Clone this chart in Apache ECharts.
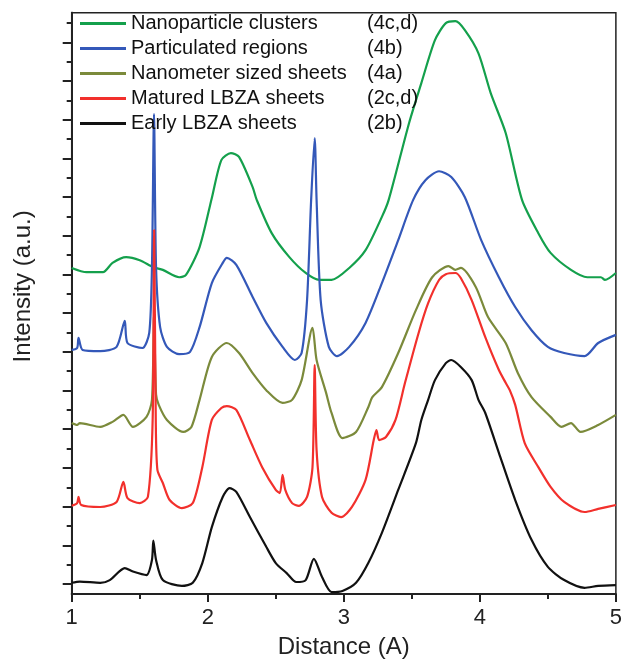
<!DOCTYPE html>
<html>
<head>
<meta charset="utf-8">
<script src="https://cdn.jsdelivr.net/npm/echarts@6/dist/echarts.min.js"></script>
<style>html,body{margin:0;padding:0;background:#fff}#c{width:625px;height:666px}</style>
</head>
<body>
<div id="c"></div>
<script>
// Distance (A) vs intensity (a.u., stacked offsets; unit = one major y tick)
const seriesNames = ['Nanoparticle clusters','Particulated regions','Nanometer sized sheets','Matured LBZA sheets','Early LBZA sheets'];
const seriesTags = ['(4c,d)','(4b)','(4a)','(2c,d)','(2b)'];
const seriesColors = ['#14a04c','#3458b9','#7b8a3b','#f2302c','#111111'];
const xTicks = [1,2,3,4,5];
const yMajorTicks = [0,1,2,3,4,5,6,7,8,9,10,11,12,13,14];
const yMinorTicks = [0.5,1.5,2.5,3.5,4.5,5.5,6.5,7.5,8.5,9.5,10.5,11.5,12.5,13.5,14.5];

const clusters = [[1.00,8.17],[1.11,8.06],[1.23,8.06],[1.30,8.30],[1.40,8.45],[1.50,8.37],[1.60,8.19],[1.67,8.12],[1.79,7.93],[1.84,7.99],[1.94,8.71],[2.03,9.98],[2.10,10.96],[2.17,11.14],[2.23,11.04],[2.33,10.26],[2.36,9.93],[2.47,9.07],[2.60,8.45],[2.72,8.04],[2.82,7.86],[2.91,7.86],[3.04,8.17],[3.16,8.63],[3.28,9.49],[3.33,9.93],[3.48,11.92],[3.57,12.95],[3.67,14.06],[3.75,14.50],[3.82,14.55],[3.89,14.32],[3.99,13.72],[4.08,12.69],[4.19,11.66],[4.31,9.93],[4.43,9.07],[4.52,8.56],[4.67,8.12],[4.79,7.93],[4.89,7.93],[4.92,7.86],[5.00,8.04]];
const particulated = [[1.00,6.05],[1.04,6.10],[1.05,6.36],[1.08,6.05],[1.21,6.02],[1.33,6.13],[1.39,6.80],[1.41,6.23],[1.52,6.10],[1.57,6.49],[1.59,8.19],[1.605,12.15],[1.62,8.19],[1.65,6.64],[1.70,6.13],[1.79,5.94],[1.87,6.00],[1.94,6.64],[2.03,7.78],[2.11,8.30],[2.14,8.43],[2.21,8.25],[2.33,7.42],[2.43,6.75],[2.55,6.13],[2.64,5.79],[2.69,5.97],[2.73,7.34],[2.76,9.93],[2.786,11.53],[2.80,9.93],[2.83,7.34],[2.89,6.13],[2.95,5.89],[3.04,6.13],[3.16,6.75],[3.28,7.78],[3.40,8.89],[3.51,9.93],[3.60,10.44],[3.70,10.67],[3.79,10.52],[3.89,10.00],[4.01,8.89],[4.14,7.93],[4.26,7.16],[4.38,6.56],[4.50,6.13],[4.62,5.97],[4.77,5.89],[4.87,6.23],[5.00,6.44]];
const nanoSheets = [[1.00,4.16],[1.04,4.11],[1.06,4.16],[1.21,4.06],[1.30,4.19],[1.38,4.37],[1.45,4.06],[1.55,4.32],[1.59,4.76],[1.605,6.95],[1.62,4.90],[1.64,4.63],[1.70,4.24],[1.82,3.93],[1.88,4.06],[1.94,4.76],[2.03,5.87],[2.14,6.23],[2.23,5.97],[2.33,5.45],[2.43,5.01],[2.55,4.68],[2.62,4.76],[2.69,5.27],[2.77,6.62],[2.80,5.79],[2.87,4.94],[2.91,4.42],[2.99,3.77],[3.09,3.93],[3.18,4.57],[3.21,4.83],[3.28,5.09],[3.40,5.97],[3.53,7.08],[3.65,7.93],[3.77,8.22],[3.82,8.12],[3.86,8.17],[3.97,7.68],[4.06,6.90],[4.19,6.23],[4.28,5.45],[4.38,4.83],[4.52,4.32],[4.60,4.06],[4.67,4.16],[4.74,3.93],[4.87,4.11],[5.00,4.37]];
const maturedSheets = [[1.00,2.02],[1.04,2.09],[1.05,2.25],[1.07,2.04],[1.21,1.99],[1.33,2.12],[1.38,2.64],[1.41,2.22],[1.50,2.09],[1.56,2.25],[1.595,4.24],[1.606,9.15],[1.618,4.24],[1.63,2.95],[1.67,2.61],[1.72,2.17],[1.81,1.96],[1.89,2.09],[1.96,3.02],[2.03,4.24],[2.10,4.55],[2.14,4.60],[2.21,4.50],[2.31,3.72],[2.40,3.02],[2.50,2.43],[2.53,2.35],[2.55,2.82],[2.57,2.43],[2.62,2.09],[2.67,2.02],[2.73,2.25],[2.77,3.02],[2.786,5.66],[2.80,3.46],[2.84,2.25],[2.91,1.84],[2.98,1.73],[3.06,1.99],[3.16,2.69],[3.22,3.72],[3.24,3.98],[3.26,3.72],[3.31,3.80],[3.38,4.24],[3.45,5.20],[3.55,6.49],[3.62,7.26],[3.70,7.86],[3.75,8.01],[3.82,8.04],[3.86,7.91],[3.94,7.34],[4.04,6.38],[4.14,5.53],[4.19,5.20],[4.22,5.01],[4.26,4.63],[4.33,3.64],[4.43,3.02],[4.52,2.51],[4.62,2.12],[4.77,1.86],[4.87,1.94],[5.00,2.04]];
const earlySheets = [[1.00,0.03],[1.06,0.06],[1.21,0.03],[1.28,0.10],[1.39,0.41],[1.45,0.32],[1.55,0.23],[1.59,0.62],[1.60,1.12],[1.62,0.62],[1.67,0.10],[1.81,-0.05],[1.89,0.03],[1.96,0.54],[2.03,1.47],[2.11,2.25],[2.16,2.48],[2.21,2.38],[2.31,1.73],[2.43,0.96],[2.50,0.54],[2.58,0.28],[2.65,0.05],[2.72,0.10],[2.78,0.65],[2.84,0.18],[2.91,-0.21],[2.99,-0.18],[3.09,0.03],[3.18,0.54],[3.28,1.32],[3.40,2.43],[3.53,3.64],[3.57,4.24],[3.62,4.76],[3.67,5.27],[3.75,5.71],[3.79,5.79],[3.86,5.61],[3.94,5.27],[3.99,4.76],[4.04,4.42],[4.14,3.39],[4.26,2.17],[4.38,1.14],[4.50,0.44],[4.62,0.10],[4.77,-0.10],[4.87,-0.05],[5.00,-0.03]];
const seriesData = [clusters, particulated, nanoSheets, maturedSheets, earlySheets];

const FONT = '"Liberation Sans", Arial, sans-serif';
const chart = echarts.init(document.getElementById('c'), null, {renderer: 'canvas'});
const yCommon = {
  type: 'value', min: -0.26, max: 14.77, position: 'left',
  axisLine: {show: true, onZero: false, lineStyle: {color: '#222', width: 2}},
  axisLabel: {show: false}, splitLine: {show: false}
};
chart.setOption({
  animation: false,
  backgroundColor: '#fff',
  grid: {left: 71.7, right: 7, top: 12.7, bottom: 72, show: true, borderColor: '#222', borderWidth: 1.5, containLabel: false},
  legend: {
    orient: 'vertical', left: 75, top: 6, itemWidth: 46, itemHeight: 3, itemGap: 0,
    icon: 'rect', selectedMode: false,
    data: seriesNames,
    formatter: function (name) {
      const i = seriesNames.indexOf(name);
      return '{a|' + name + '}{b|' + seriesTags[i] + '}';
    },
    textStyle: {
      fontFamily: FONT, fontSize: 20, color: '#111', lineHeight: 25,
      rich: {a: {width: 236, fontFamily: FONT, fontSize: 20, color: '#111'}, b: {fontFamily: FONT, fontSize: 20, color: '#111'}}
    }
  },
  xAxis: {
    type: 'value', min: 1, max: 5, interval: 1,
    name: 'Distance (A)', nameLocation: 'middle', nameGap: 41,
    nameTextStyle: {fontFamily: FONT, fontSize: 24, color: '#222'},
    axisLine: {show: true, onZero: false, lineStyle: {color: '#222', width: 2}},
    axisTick: {show: true, inside: false, length: 8, lineStyle: {color: '#222', width: 2}},
    minorTick: {show: true, splitNumber: 2, length: 5, lineStyle: {color: '#222', width: 2}},
    axisLabel: {fontFamily: FONT, fontSize: 22, color: '#222', margin: 13,
      customValues: xTicks},
    splitLine: {show: false}
  },
  yAxis: [
    Object.assign({}, yCommon, {
      name: 'Intensity (a.u.)', nameLocation: 'middle', nameGap: 36,
      nameTextStyle: {fontFamily: FONT, fontSize: 24, color: '#222', padding: [0, 0, 0, 34]},
      axisTick: {show: true, inside: false, length: 9, customValues: yMajorTicks, lineStyle: {color: '#222', width: 2}}
    }),
    Object.assign({}, yCommon, {
      axisTick: {show: true, inside: false, length: 5, customValues: yMinorTicks, lineStyle: {color: '#222', width: 2}}
    })
  ],
  series: seriesData.map(function (d, i) {
    return {
      name: seriesNames[i], type: 'line', data: d, yAxisIndex: 0,
      showSymbol: false, symbol: 'none', smooth: 0.25,
      lineStyle: {color: seriesColors[i], width: 2.2},
      itemStyle: {color: seriesColors[i]}
    };
  })
});
</script>
</body>
</html>
